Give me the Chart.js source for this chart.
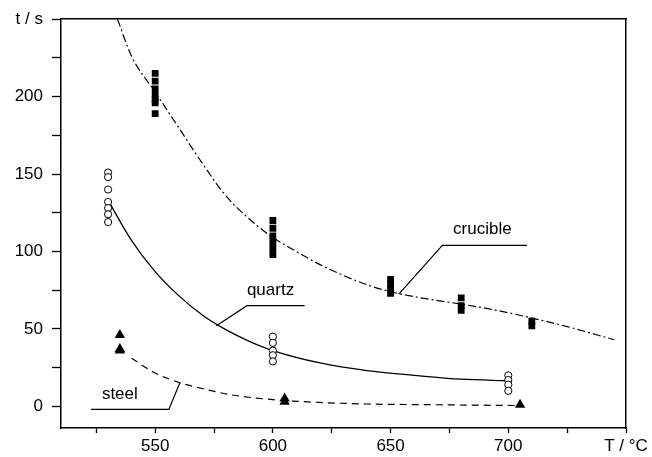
<!DOCTYPE html>
<html>
<head>
<meta charset="utf-8">
<script src="https://cdn.jsdelivr.net/npm/chart.js@4.4.1/dist/chart.umd.min.js"></script>
<style>
    body { margin: 0; background: #fff; }
    canvas { display: block; }
</style>
</head>
<body>
<canvas id="chart" width="652" height="457"></canvas>
<script>
// measured points, grouped by temperature
const crucibleTemps = [550, 600, 650, 680, 710];
const crucibleTimes = [
    [215, 210, 205, 201, 198, 196, 189],
    [120, 115, 110, 106, 102, 98],
    [82, 79, 76, 73],
    [70, 65, 62],
    [55, 52]
];
const quartzTemps = [530, 600, 700];
const quartzTimes = [
    [151, 148, 140, 132, 128, 124, 119],
    [45, 41, 36, 33, 29],
    [20, 17, 14, 10]
];
const steelTemps = [535, 605, 705];
const steelTimes = [
    [46, 36, 37],
    [5, 3],
    [1]
];

// fitted curves
const crucibleFitT = [534, 540, 550, 560, 570, 580, 590, 600, 610, 620, 630, 640, 650, 665, 680, 695, 710, 725, 745];
const crucibleFitY = [250, 226, 203, 180, 157, 136, 121, 109, 100, 91.5, 84.5, 78.5, 74, 69.5, 66, 62, 57, 51.5, 43];
const quartzFitT = [530, 540, 550, 560, 570, 580, 590, 600, 620, 640, 660, 680, 700];
const quartzFitY = [133, 107, 87, 71.5, 59, 49.5, 42, 36, 28, 23, 20, 17.5, 16.5];
const steelFitT = [540, 550, 560, 570, 582, 600, 620, 640, 670, 705];
const steelFitY = [31, 21.5, 15.5, 11.5, 7.5, 4.3, 2.5, 1.5, 1, 0.5];

// axes
const xTicks = [525, 550, 575, 600, 625, 650, 675, 700, 725, 750];
const xLabels = { 550: "550", 600: "600", 650: "650", 700: "700", 750: "T / \u00B0C" };
const yTicks = [0, 25, 50, 75, 100, 125, 150, 175, 200, 225, 250];
const yLabels = { 0: "0", 50: "50", 100: "100", 150: "150", 200: "200", 250: "t / s" };

// callouts (data coordinates)
const calloutNames = ["crucible", "quartz", "steel"];
const calloutTextAt = [[689, 114], [599, 74.6], [535, 8]];
const calloutPaths = [
    [[708, 104], [672, 104], [653.5, 72.5]],
    [[613.5, 65], [589, 65], [576, 52]],
    [[522.7, -2], [555.8, -2], [560.5, 15.2]]
];

function toPoints(temps, groups) {
    return temps.flatMap((t, i) => groups[i].map(v => ({ x: t, y: v })));
}

function toLine(xs, ys) {
    return xs.map((x, i) => ({ x: x, y: ys[i] }));
}

const FONT = "'Liberation Sans', Arial, sans-serif";

const callouts = {
    id: "callouts",
    afterDatasetsDraw(chart) {
        const ctx = chart.ctx;
        const xs = chart.scales.x;
        const ys = chart.scales.y;
        ctx.save();
        ctx.strokeStyle = "#000";
        ctx.lineWidth = 1.2;
        calloutPaths.forEach(path => {
            ctx.beginPath();
            path.forEach((p, i) => {
                const px = xs.getPixelForValue(p[0]);
                const py = ys.getPixelForValue(p[1]);
                if (i === 0) ctx.moveTo(px, py); else ctx.lineTo(px, py);
            });
            ctx.stroke();
        });
        ctx.fillStyle = "#000";
        ctx.font = "17px " + FONT;
        ctx.textAlign = "center";
        ctx.textBaseline = "middle";
        calloutNames.forEach((name, i) => {
            ctx.fillText(name, xs.getPixelForValue(calloutTextAt[i][0]), ys.getPixelForValue(calloutTextAt[i][1]));
        });
        ctx.restore();
    }
};

Chart.defaults.font.family = FONT;
Chart.defaults.font.size = 17;
Chart.defaults.color = "#000";

const ctx = document.getElementById("chart").getContext("2d");

new Chart(ctx, {
    type: "scatter",
    data: {
        datasets: [
            {
                label: "crucible",
                data: toPoints(crucibleTemps, crucibleTimes),
                pointStyle: "rect",
                pointRadius: 4.8,
                backgroundColor: "#000",
                borderWidth: 0
            },
            {
                label: "quartz",
                data: toPoints(quartzTemps, quartzTimes),
                pointStyle: "circle",
                pointRadius: 3.6,
                backgroundColor: "#fff",
                borderColor: "#000",
                borderWidth: 1
            },
            {
                label: "steel",
                data: toPoints(steelTemps, steelTimes),
                pointStyle: "triangle",
                pointRadius: 6,
                backgroundColor: "#000",
                borderColor: "#000",
                borderWidth: 0
            },
            {
                label: "crucible fit",
                data: toLine(crucibleFitT, crucibleFitY),
                showLine: true,
                pointRadius: 0,
                borderColor: "#000",
                borderWidth: 1.2,
                borderDash: [8, 3, 2, 3],
                cubicInterpolationMode: "monotone"
            },
            {
                label: "quartz fit",
                data: toLine(quartzFitT, quartzFitY),
                showLine: true,
                pointRadius: 0,
                borderColor: "#000",
                borderWidth: 1.3,
                cubicInterpolationMode: "monotone"
            },
            {
                label: "steel fit",
                data: toLine(steelFitT, steelFitY),
                showLine: true,
                pointRadius: 0,
                borderColor: "#000",
                borderWidth: 1.2,
                borderDash: [7, 5],
                cubicInterpolationMode: "monotone"
            }
        ]
    },
    options: {
        responsive: false,
        devicePixelRatio: 1,
        animation: false,
        layout: { padding: 0 },
        plugins: {
            legend: { display: false },
            tooltip: { enabled: false }
        },
        scales: {
            x: {
                type: "linear",
                position: "bottom",
                min: 510,
                max: 750,
                afterBuildTicks: scale => { scale.ticks = xTicks.map(v => ({ value: v })); },
                afterFit: scale => { scale.height = 29; },
                ticks: {
                    autoSkip: false,
                    maxRotation: 0,
                    padding: 3,
                    callback: v => xLabels[v] || ""
                },
                grid: {
                    drawOnChartArea: false,
                    drawTicks: true,
                    tickLength: 5,
                    tickWidth: 1.3,
                    tickColor: "#000"
                },
                border: { display: true, color: "#000", width: 1.5 }
            },
            y: {
                type: "linear",
                position: "left",
                min: -14,
                max: 250,
                afterBuildTicks: scale => { scale.ticks = yTicks.map(v => ({ value: v })); },
                afterFit: scale => { scale.width = 61; },
                ticks: {
                    autoSkip: false,
                    padding: 9,
                    callback: v => yLabels[v] || ""
                },
                grid: {
                    drawOnChartArea: false,
                    drawTicks: true,
                    tickLength: 9,
                    tickWidth: 1.3,
                    tickColor: "#000"
                },
                border: { display: true, color: "#000", width: 1.5 }
            },
            xTop: {
                type: "linear",
                position: "top",
                afterFit: scale => { scale.height = 15; },
                ticks: { display: false },
                grid: { drawOnChartArea: false, drawTicks: false },
                border: { display: true, color: "#000", width: 1.5 }
            },
            yRight: {
                type: "linear",
                position: "right",
                afterFit: scale => { scale.width = 26; },
                ticks: { display: false },
                grid: { drawOnChartArea: false, drawTicks: false },
                border: { display: true, color: "#000", width: 1.5 }
            }
        }
    },
    plugins: [callouts]
});
</script>
</body>
</html>
